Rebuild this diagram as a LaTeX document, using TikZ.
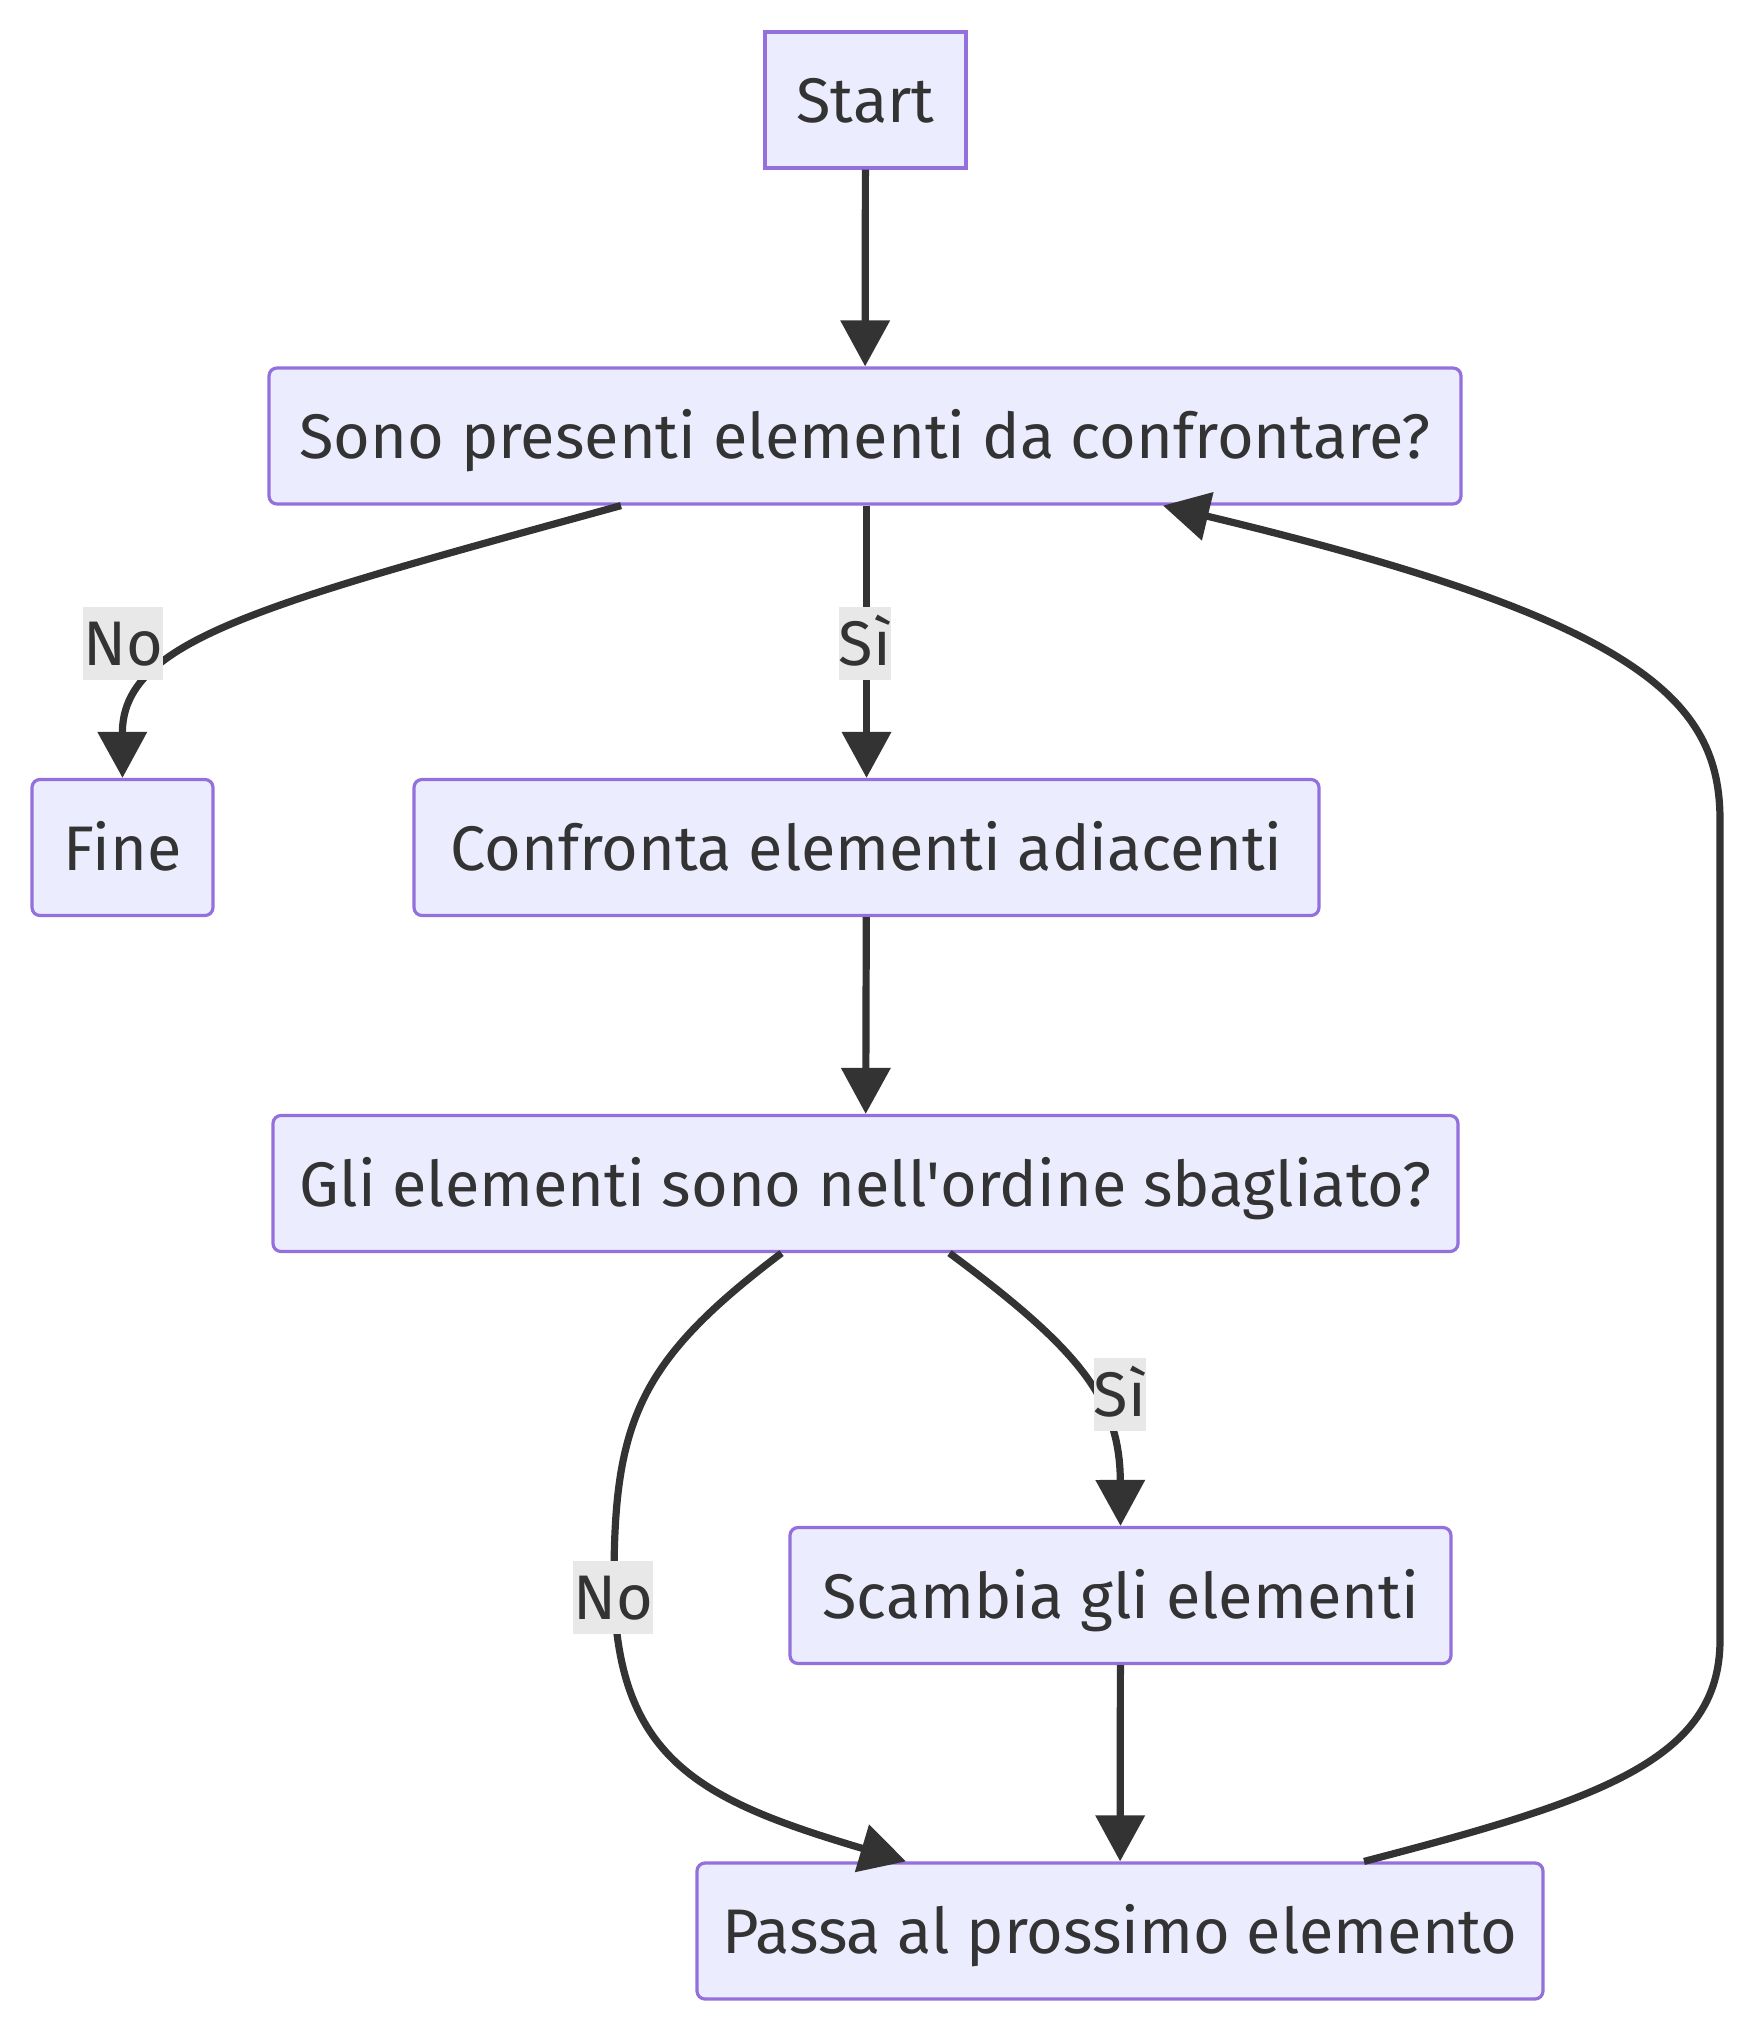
\documentclass[tikz,border=0pt]{standalone}
\usepackage{fontspec}
\setmainfont{Fira Sans}
\usetikzlibrary{arrows.meta}
\definecolor{boxfill}{HTML}{ECECFF}
\definecolor{boxline}{HTML}{9370DB}
\definecolor{ink}{HTML}{333333}
\definecolor{lblfill}{HTML}{E8E8E8}

\begin{document}
\begin{tikzpicture}[x=0.5pt,y=-0.5pt,
	box/.style={draw=boxline,fill=boxfill,line width=1.6pt,rounded corners=4pt,minimum height=68pt,inner sep=0pt,text=ink,text height=28pt,text depth=5.5pt,font=\fontsize{31.5}{38}\selectfont},
	edge/.style={draw=ink,line width=3.6pt,-{Triangle[length=23pt,width=24pt]}},
	lbl/.style={fill=lblfill,text=ink,inner xsep=0pt,inner ysep=1.5pt,text height=28pt,text depth=5.5pt,font=\fontsize{31.5}{38}\selectfont}]
			\useasboundingbox (0,0) rectangle (1752,2028);
			
			% nodes
			\node[box,rounded corners=0pt,minimum width=100.5pt] (start) at (865.5,100) {Start};
			\node[box,minimum width=596pt] (presenti) at (865,436) {Sono presenti elementi da confrontare?};
			\node[box,minimum width=90.5pt] (fine) at (122.5,847.5) {Fine};
			\node[box,minimum width=452.5pt] (confronta) at (866.5,847.5) {Confronta elementi adiacenti};
			\node[box,minimum width=592.5pt] (ordine) at (865.5,1183.5) {Gli elementi sono nell\textquotesingle ordine sbagliato?};
			\node[box,minimum width=330.5pt] (scambia) at (1120.5,1595.5) {Scambia gli elementi};
			\node[box,minimum width=423pt] (passa) at (1120,1931) {Passa al prossimo elemento};
			
			% edges
			\draw[edge] (start) -- (presenti);
			\draw[edge] ([xshift=-122pt]presenti.south) .. controls (260,605) and (122,640) .. (fine.north);
			\draw[edge] (presenti.south -| confronta.north) -- (confronta.north);
			\draw[edge] (confronta) -- (ordine);
			\draw[edge] ([xshift=-42pt]ordine.south) .. controls (640,1360) and (614,1420) .. (614,1580) .. controls (614,1760) and (700,1800) .. ([xshift=-107pt]passa.north);
			\draw[edge] ([xshift=42pt]ordine.south) .. controls (1080,1350) and (1120,1400) .. (scambia.north);
			\draw[edge] (scambia) -- (passa);
			\draw[edge] ([xshift=122pt]passa.north) .. controls (1600,1800) and (1720,1760) .. (1720,1640) -- (1720,820) .. controls (1720,700) and (1640,620) .. ([xshift=149pt]presenti.south);
			
			% labels
			\node[lbl] (no1) at (123,643) {No};
			\node[lbl] (si1) at (865,643) {Sì};
			\node[lbl] (si2) at (1120,1394) {Sì};
			\node[lbl] (no2) at (613,1597) {No};
			\end{tikzpicture}
\end{document}
